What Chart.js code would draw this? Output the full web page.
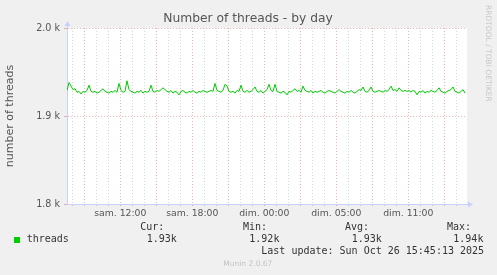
<!DOCTYPE html>
<html>
<head>
<meta charset="utf-8">
<script src="https://cdn.jsdelivr.net/npm/chart.js@4/dist/chart.umd.min.js"></script>
<style>
  html, body { margin: 0; padding: 0; background: #f0f0f0; }
  canvas { display: block; }
</style>
</head>
<body>
<canvas id="chart" width="497" height="275"></canvas>
<script>
// one sample every 10 minutes
const threads = [
  1929, 1938, 1934, 1930, 1931, 1927, 1928, 1925, 1928, 1927,
  1929, 1935, 1928, 1927, 1928, 1926, 1927, 1929, 1931, 1928,
  1927, 1926, 1928, 1927, 1929, 1927, 1937, 1929, 1927, 1928,
  1940, 1930, 1928, 1927, 1926, 1928, 1927, 1929, 1926, 1928,
  1927, 1928, 1935, 1928, 1927, 1929, 1928, 1930, 1932, 1930,
  1928, 1927, 1929, 1926, 1928, 1927, 1924, 1928, 1929, 1927,
  1926, 1928, 1927, 1929, 1927, 1926, 1928, 1927, 1929, 1928,
  1927, 1928, 1929, 1928, 1937, 1929, 1928, 1927, 1929, 1936,
  1934, 1928, 1927, 1928, 1926, 1929, 1928, 1935, 1928, 1927,
  1929, 1927, 1928, 1930, 1933, 1928, 1927, 1929, 1926, 1928,
  1930, 1936, 1929, 1928, 1936, 1928, 1927, 1926, 1928, 1927,
  1924, 1928, 1927, 1929, 1931, 1928, 1929, 1927, 1934, 1929,
  1928, 1927, 1929, 1926, 1928, 1927, 1928, 1929, 1927, 1926,
  1928, 1929, 1928, 1927, 1926, 1928, 1930, 1928, 1927, 1926,
  1928, 1927, 1929, 1927, 1926, 1928, 1930, 1929, 1933, 1928,
  1927, 1929, 1933, 1928, 1927, 1928, 1929, 1928, 1927, 1929,
  1928, 1930, 1934, 1929, 1930, 1928, 1932, 1929, 1928, 1929,
  1928, 1929, 1927, 1929, 1928, 1924, 1928, 1927, 1929, 1926,
  1928, 1927, 1929, 1928, 1927, 1929, 1932, 1928, 1927, 1926,
  1928, 1929, 1930, 1933, 1928, 1927, 1926, 1928, 1930, 1926
];
const sampleStart = 7.56;  // hours since sam. 00:00
const sampleStep = 1 / 6;

const xMin = 7.56;
const xMax = 40.89;
const gridHours = Array.from({ length: 33 }, (_, i) => 8 + i);
const labelHours = [12, 18, 24, 30, 36];
const labelTexts = ["sam. 12:00", "sam. 18:00", "dim. 00:00", "dim. 05:00", "dim. 11:00"];
const yTicks = [1800, 1900, 2000];

const RED = "rgba(225, 110, 110, 0.5)";
const GRAY = "rgba(150, 150, 150, 0.4)";
const AXIS = "#c8d0ff";

function fmtK(v) {
  return (v / 1000).toFixed(2) + "k";
}

const muninPlugin = {
  id: "munin",
  beforeDraw(chart) {
    const { ctx, chartArea: a } = chart;
    ctx.save();
    ctx.fillStyle = "#f0f0f0";
    ctx.fillRect(0, 0, chart.width, chart.height);
    ctx.fillStyle = "#ffffff";
    ctx.fillRect(a.left, a.top, a.right - a.left, a.bottom - a.top);
    ctx.restore();
  },
  afterDraw(chart) {
    const { ctx, chartArea: a } = chart;
    ctx.save();

    // axis arrows
    ctx.strokeStyle = AXIS;
    ctx.fillStyle = AXIS;
    ctx.lineWidth = 1;
    ctx.beginPath();
    ctx.moveTo(a.left + 0.5, a.top);
    ctx.lineTo(a.left + 0.5, a.top - 4);
    ctx.moveTo(a.right, a.bottom + 0.5);
    ctx.lineTo(a.right + 3, a.bottom + 0.5);
    ctx.stroke();
    ctx.beginPath();
    ctx.moveTo(a.left - 2.5, a.top - 2);
    ctx.lineTo(a.left + 3.5, a.top - 2);
    ctx.lineTo(a.left + 0.5, a.top - 7);
    ctx.closePath();
    ctx.fill();
    ctx.beginPath();
    ctx.moveTo(a.right + 1, a.bottom - 2.5);
    ctx.lineTo(a.right + 1, a.bottom + 3.5);
    ctx.lineTo(a.right + 6, a.bottom + 0.5);
    ctx.closePath();
    ctx.fill();

    // title
    ctx.fillStyle = "#555555";
    ctx.font = '12.3px "DejaVu Sans"';
    ctx.textAlign = "center";
    ctx.textBaseline = "middle";
    ctx.fillText("Number of threads - by day", 248, 19);

    // legend
    const cur = threads[threads.length - 1];
    const min = Math.min(...threads);
    const max = Math.max(...threads);
    const avg = threads.reduce((s, v) => s + v, 0) / threads.length;

    ctx.textAlign = "left";
    ctx.fillStyle = "#333333";
    ctx.font = '10px "DejaVu Sans Mono"';
    ctx.fillText("Cur:", 140.3, 227.5);
    ctx.fillText("Min:", 243, 227.5);
    ctx.fillText("Avg:", 345, 227.5);
    ctx.fillText("Max:", 447, 227.5);
    ctx.fillText("threads", 26.7, 239.7);
    ctx.fillText(fmtK(cur), 146.7, 239.7);
    ctx.fillText(fmtK(min), 249.3, 239.7);
    ctx.fillText(fmtK(avg), 351.7, 239.7);
    ctx.fillText(fmtK(max), 453.3, 239.7);
    ctx.fillText("Last update: Sun Oct 26 15:45:13 2025", 261.3, 251.5);
    ctx.fillStyle = "#00cc00";
    ctx.fillRect(14, 237, 6, 6);

    ctx.fillStyle = "#c4c4c4";
    ctx.font = '7.5px "DejaVu Sans"';
    ctx.textAlign = "center";
    ctx.fillText("Munin 2.0.67", 247.8, 263.7);

    ctx.translate(487.7, 5);
    ctx.rotate(Math.PI / 2);
    ctx.textAlign = "left";
    ctx.fillStyle = "#c8c8c8";
    ctx.fillText("RRDTOOL / TOBI OETIKER", 0, 0);
    ctx.restore();
  }
};

const ctx = document.getElementById("chart").getContext("2d");
new Chart(ctx, {
  type: "line",
  data: {
    datasets: [{
      label: "threads",
      data: threads.map((v, i) => ({ x: sampleStart + i * sampleStep, y: v })),
      borderColor: "#00cc00",
      borderWidth: 1,
      pointRadius: 0,
      tension: 0,
      fill: false
    }]
  },
  options: {
    responsive: false,
    animation: false,
    devicePixelRatio: 1,
    layout: { padding: { left: 0, right: 30, top: 28, bottom: 51 } },
    plugins: {
      legend: { display: false },
      title: { display: false },
      tooltip: { enabled: false }
    },
    scales: {
      x: {
        type: "linear",
        min: xMin,
        max: xMax,
        afterFit: (scale) => { scale.height = 20; },
        afterBuildTicks: (scale) => {
          scale.ticks = gridHours.map((h) => ({ value: h }));
        },
        grid: {
          color: (c) => (c.tick && c.tick.value % 3 === 0 ? RED : GRAY),
          lineWidth: 1,
          drawTicks: true,
          tickLength: 2
        },
        border: { display: true, color: AXIS, width: 1, dash: [1, 2] },
        ticks: {
          autoSkip: false,
          maxRotation: 0,
          minRotation: 0,
          padding: 2,
          color: "#555555",
          font: { family: "DejaVu Sans", size: 9.3 },
          callback: (v) => {
            const k = labelHours.indexOf(v);
            return k >= 0 ? labelTexts[k] : "";
          }
        }
      },
      y: {
        min: 1800,
        max: 2000,
        afterFit: (scale) => { scale.width = 67; },
        afterBuildTicks: (scale) => {
          scale.ticks = yTicks.map((v) => ({ value: v }));
        },
        grid: {
          color: RED,
          lineWidth: 1,
          drawTicks: true,
          tickLength: 3
        },
        border: { display: true, color: AXIS, width: 1, dash: [1, 2] },
        ticks: {
          padding: 4,
          color: "#555555",
          font: { family: "DejaVu Sans", size: 9.6 },
          callback: (v) => (v / 1000).toFixed(1) + " k"
        },
        title: {
          display: true,
          text: "number of threads",
          color: "#555555",
          font: { family: "DejaVu Sans", size: 11 },
          padding: { top: 4, bottom: 0 }
        }
      }
    }
  },
  plugins: [muninPlugin]
});
</script>
</body>
</html>
